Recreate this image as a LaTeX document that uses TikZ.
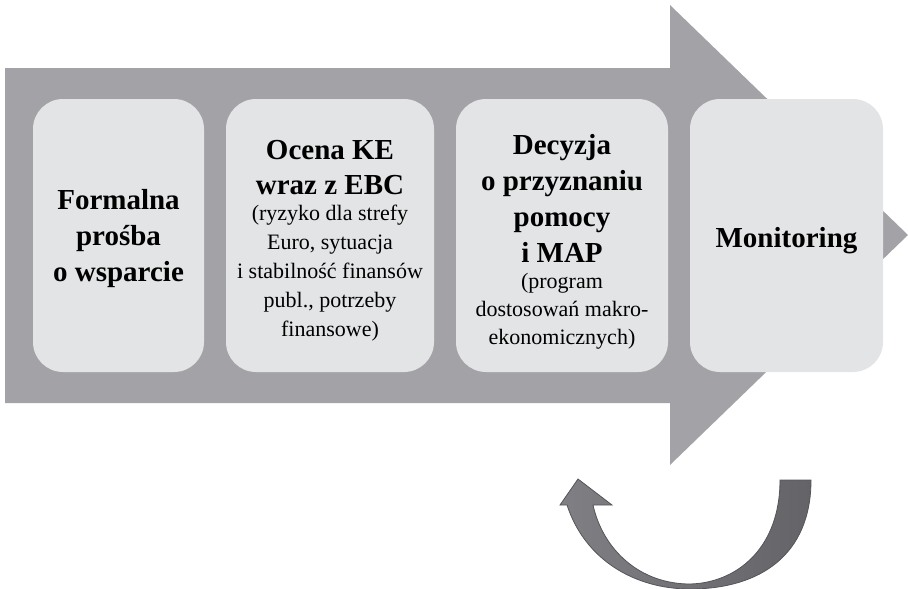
\documentclass[tikz,border=0pt]{standalone}
\usepackage{fontspec}
\setmainfont{Liberation Serif}
\usetikzlibrary{calc}
\definecolor{arrowgray}{RGB}{163,162,166}
\definecolor{boxgray}{RGB}{227,228,230}
\definecolor{loopdark}{RGB}{100,99,104}
\definecolor{looplight}{RGB}{128,127,132}
\definecolor{loopedge}{RGB}{85,84,89}
\newcommand{\bigline}{\fontsize{29}{35}\selectfont\bfseries}
\begin{document}
\begin{tikzpicture}[x=1pt,y=-1pt,
  stagebox/.style={fill=boxgray, draw=none, rounded corners=30pt, minimum height=273pt, inner sep=0pt},
  stagetext/.style={align=center, inner sep=0pt, font=\fontsize{22}{27}\selectfont}]
\useasboundingbox (0,0) rectangle (908,589);
% big arrow
\fill[arrowgray] (5,68) -- (670,68) -- (670,5) -- (908,235) -- (670,465) -- (670,403) -- (5,403) -- cycle;
% boxes
\node[stagebox, minimum width=171pt] (b1) at (118.5,235.5) {};
\node[stagebox, minimum width=208pt] (b2) at (330,235.5) {};
\node[stagebox, minimum width=212pt] (b3) at (562,235.5) {};
\node[stagebox, minimum width=193pt] (b4) at (786.5,235.5) {};
% texts
\node[stagetext] (t1) at ($(b1.center)+(0,3)$)
  {\bigline Formalna\\[9pt]\bigline prośba\\[9pt]\bigline o wsparcie};
\node[stagetext] (t2) at ($(b2.center)+(0,5.5)$)
  {\bigline Ocena KE\\[8pt]\bigline wraz z EBC\\[-1pt]
   (ryzyko dla strefy\\[2pt] Euro, sytuacja\\[2pt] i stabilność finansów\\[2pt] publ., potrzeby\\[2pt] finansowe)};
\node[stagetext] (t3) at ($(b3.center)+(0,6)$)
  {\bigline Decyzja\\[9pt]\bigline o przyznaniu\\[9pt]\bigline pomocy\\[9pt]\bigline i MAP\\[-1pt]
   (program\\[1pt] dostosowań makro-\\[1pt] ekonomicznych)};
\node[stagetext] (t4) at ($(b4.center)+(0,5)$)
  {\bigline Monitoring};
% loop arrow
\shade[left color=looplight, right color=loopdark, draw=loopedge, line width=0.8pt]
  (811,480) .. controls (811,555) and (760,589) .. (690,589)
  .. controls (635,589) and (585,560) .. (567,505)
  -- (560,505) -- (578,479) -- (612,505) -- (593,505)
  .. controls (603,550) and (640,584) .. (690,584)
  .. controls (735,583) and (780,550) .. (780,480) -- cycle;
\end{tikzpicture}
\end{document}
